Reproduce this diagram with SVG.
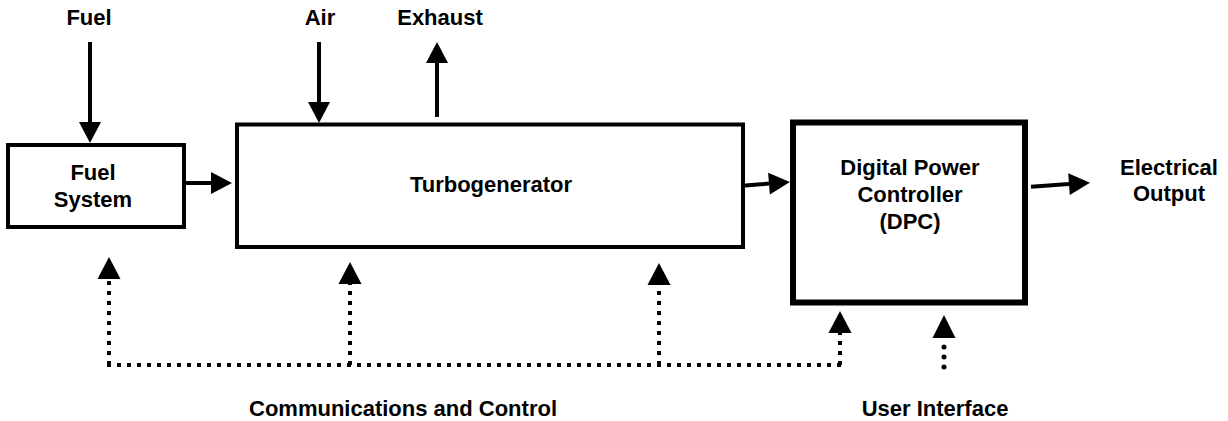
<svg xmlns="http://www.w3.org/2000/svg" width="1228" height="421" viewBox="0 0 1228 421">
  <style>
    .box { fill: #fff; stroke: #000; stroke-width: 4; }
    .thick { stroke-width: 6; }
    .lbl { font-family: "Liberation Sans", Arial, Helvetica, sans-serif; font-weight: bold; font-size: 22px; fill: #000; text-anchor: middle; }
    .solid { fill: none; stroke: #000; stroke-width: 4; marker-end: url(#ah); }
    .dot { fill: none; stroke: #000; stroke-width: 4; stroke-dasharray: 4 6; }
    .dotarr { marker-end: url(#ad); }
    .rd { fill: #000; }
  </style>
  <defs>
    <marker id="ah" markerUnits="userSpaceOnUse" markerWidth="21" markerHeight="22" refX="0" refY="11" orient="auto" overflow="visible">
      <path d="M0,0 L21,11 L0,22 Z" fill="#000"/>
    </marker>
    <marker id="ad" markerUnits="userSpaceOnUse" markerWidth="22" markerHeight="23" refX="0" refY="11.5" orient="auto" overflow="visible">
      <path d="M0,0 L22,11.5 L0,23 Z" fill="#000"/>
    </marker>
  </defs>
  <rect width="1228" height="421" fill="#fff"/>

  <g id="connectors">
    <line class="solid" x1="90" y1="42" x2="90" y2="122"/>
    <line class="solid" x1="319" y1="42" x2="319" y2="102"/>
    <line class="solid" x1="437" y1="117" x2="437" y2="63"/>
    <line class="solid" x1="186" y1="183" x2="211" y2="183"/>
    <line class="solid" x1="745" y1="185.5" x2="769" y2="183.6"/>
    <line class="solid" x1="1031" y1="186.7" x2="1069" y2="184.1"/>

    <line class="dot" x1="107" y1="365" x2="842" y2="365"/>
    <line class="dot dotarr" x1="109" y1="365" x2="109" y2="279"/>
    <line class="dot dotarr" x1="350" y1="365" x2="350" y2="284"/>
    <line class="dot dotarr" x1="659" y1="365" x2="659" y2="285"/>
    <line class="dot dotarr" x1="840" y1="365" x2="840" y2="333"/>

    <circle class="rd" cx="944" cy="347" r="2.5"/>
    <circle class="rd" cx="944" cy="357" r="2.5"/>
    <circle class="rd" cx="944" cy="367" r="2.5"/>
    <path d="M932.5,338 L944,315 L955.5,338 Z" fill="#000"/>
  </g>

  <g id="fuel-system">
    <rect class="box" x="8" y="145" width="176" height="82"/>
    <text class="lbl" x="93" y="180">Fuel</text>
    <text class="lbl" x="93" y="207">System</text>
  </g>

  <g id="turbogenerator">
    <rect class="box" x="237" y="124.5" width="506" height="122.5"/>
    <text class="lbl" x="491" y="192">Turbogenerator</text>
  </g>

  <g id="dpc">
    <rect class="box thick" x="793" y="122.5" width="232" height="180"/>
    <text class="lbl" x="910" y="175">Digital Power</text>
    <text class="lbl" x="910" y="202">Controller</text>
    <text class="lbl" x="910" y="229">(DPC)</text>
  </g>

  <g id="labels">
    <text class="lbl" x="89" y="25">Fuel</text>
    <text class="lbl" x="320" y="25">Air</text>
    <text class="lbl" x="440" y="25">Exhaust</text>
    <text class="lbl" x="1169" y="175">Electrical</text>
    <text class="lbl" x="1169" y="201">Output</text>
    <text class="lbl" x="403" y="416">Communications and Control</text>
    <text class="lbl" x="935" y="416">User Interface</text>
  </g>
</svg>
